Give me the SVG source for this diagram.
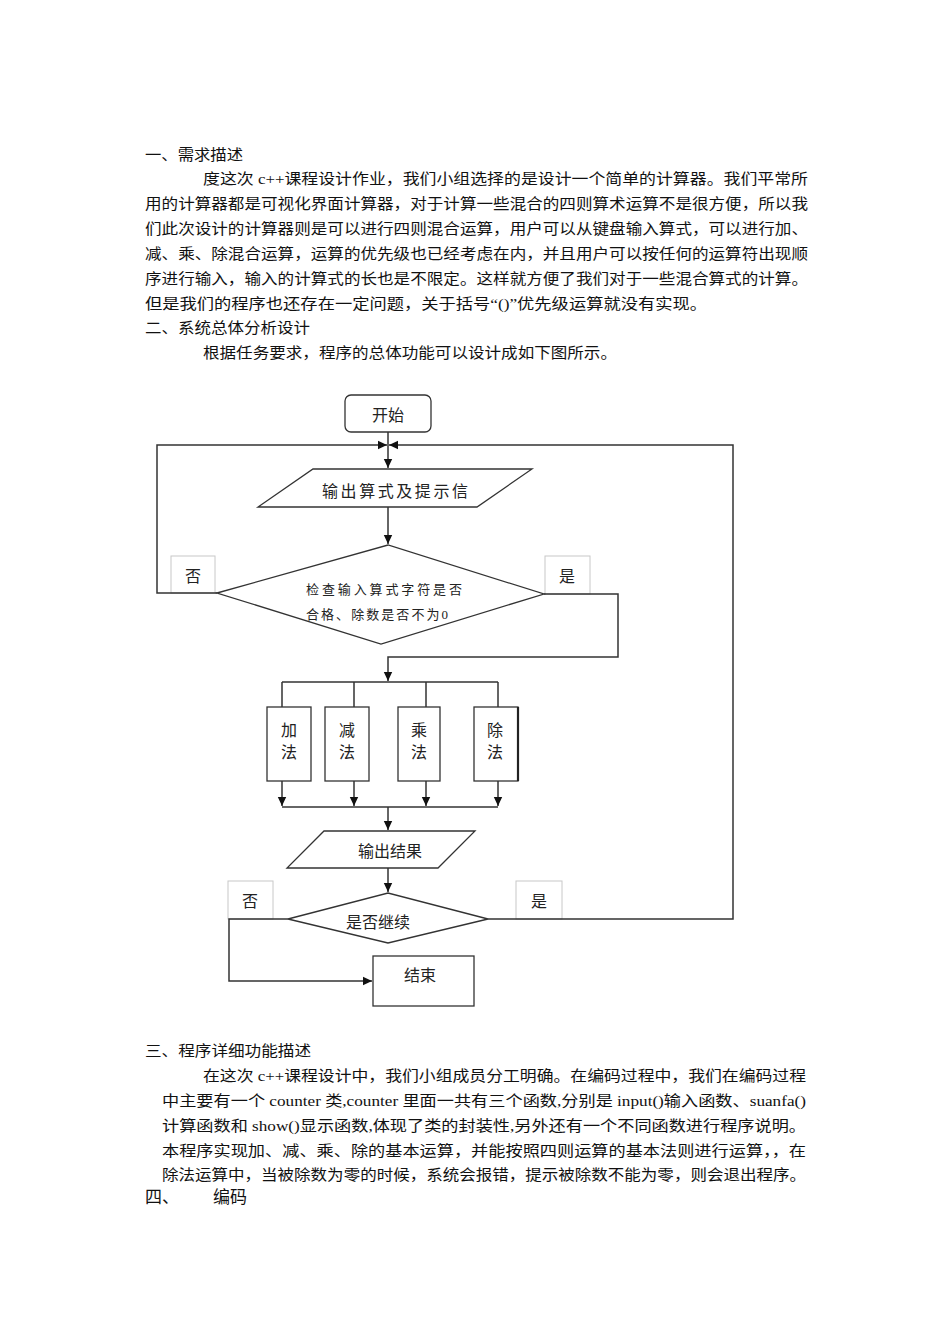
<svg xmlns="http://www.w3.org/2000/svg" width="950" height="1344" viewBox="0 0 950 1344">
<style>
.body{font-family:"Liberation Serif","Noto Sans CJK SC",serif;font-size:15px;fill:#111}
.lbl{font-family:"Liberation Serif","Noto Sans CJK SC",serif;font-size:16px;fill:#222}
.small{font-family:"Liberation Serif","Noto Sans CJK SC",serif;font-size:13px;fill:#222}
.shape{fill:#fff;stroke:#333;stroke-width:1.3}
.tag{fill:#fff;stroke:#c8c8c8;stroke-width:1}
.conn{fill:none;stroke:#333;stroke-width:1.5}
</style>
<defs>
<marker id="arr" markerUnits="userSpaceOnUse" markerWidth="10" markerHeight="10" refX="9" refY="5" orient="auto">
<path d="M0,0.8 L9,5 L0,9.2 Z" fill="#111"/>
</marker>
</defs>
<rect width="950" height="1344" fill="#fff"/>

<g id="text-top">
<text class="body" x="145" y="160" textLength="98" lengthAdjust="spacingAndGlyphs">一、需求描述</text>
<text class="body" x="203" y="184" textLength="605" lengthAdjust="spacingAndGlyphs">度这次 c++课程设计作业，我们小组选择的是设计一个简单的计算器。我们平常所</text>
<text class="body" x="145" y="209" textLength="663" lengthAdjust="spacingAndGlyphs">用的计算器都是可视化界面计算器，对于计算一些混合的四则算术运算不是很方便，所以我</text>
<text class="body" x="145" y="234" textLength="663" lengthAdjust="spacingAndGlyphs">们此次设计的计算器则是可以进行四则混合运算，用户可以从键盘输入算式，可以进行加、</text>
<text class="body" x="145" y="259" textLength="663" lengthAdjust="spacingAndGlyphs">减、乘、除混合运算，运算的优先级也已经考虑在内，并且用户可以按任何的运算符出现顺</text>
<text class="body" x="145" y="284" textLength="663" lengthAdjust="spacingAndGlyphs">序进行输入，输入的计算式的长也是不限定。这样就方便了我们对于一些混合算式的计算。</text>
<text class="body" x="145" y="309" textLength="562" lengthAdjust="spacingAndGlyphs">但是我们的程序也还存在一定问题，关于括号“()”优先级运算就没有实现。</text>
<text class="body" x="145" y="333" textLength="165" lengthAdjust="spacingAndGlyphs">二、系统总体分析设计</text>
<text class="body" x="203" y="358" textLength="414" lengthAdjust="spacingAndGlyphs">根据任务要求，程序的总体功能可以设计成如下图所示。</text>
</g>

<g id="tags">
<rect class="tag" x="171" y="556" width="44" height="37"/>
<text class="lbl" x="193" y="582" text-anchor="middle">否</text>
<rect class="tag" x="545" y="556" width="45" height="38"/>
<text class="lbl" x="567" y="582" text-anchor="middle">是</text>
<rect class="tag" x="228" y="881" width="45" height="38"/>
<text class="lbl" x="250" y="907" text-anchor="middle">否</text>
<rect class="tag" x="516" y="881" width="46" height="38"/>
<text class="lbl" x="539" y="907" text-anchor="middle">是</text>
</g>

<g id="connectors">
<path class="conn" d="M388,432 V468" marker-end="url(#arr)"/>
<path class="conn" d="M388,507 V544" marker-end="url(#arr)"/>
<path class="conn" d="M217,593 H157 V445 H387" marker-end="url(#arr)"/>
<path class="conn" d="M544,594 H618 V657 H388 V681" marker-end="url(#arr)"/>
<path class="conn" d="M282,682 H498 M282,682 V707 M354,682 V707 M426,682 V707 M498,682 V707"/>
<path class="conn" d="M282,781 V806" marker-end="url(#arr)"/>
<path class="conn" d="M354,781 V806" marker-end="url(#arr)"/>
<path class="conn" d="M426,781 V806" marker-end="url(#arr)"/>
<path class="conn" d="M498,781 V806" marker-end="url(#arr)"/>
<path class="conn" d="M282,807 H498"/>
<path class="conn" d="M388,807 V830" marker-end="url(#arr)"/>
<path class="conn" d="M388,868 V892" marker-end="url(#arr)"/>
<path class="conn" d="M288,919 H229 V981 H372" marker-end="url(#arr)"/>
<path class="conn" d="M488,919 H733 V445 H389" marker-end="url(#arr)"/>
</g>

<g id="start">
<rect class="shape" x="345" y="395" width="86" height="37" rx="6"/>
<text class="lbl" x="388" y="421" text-anchor="middle">开始</text>
</g>

<g id="output-expr">
<polygon class="shape" points="313,469 532,469 477,507 258,507"/>
<text class="lbl" x="322" y="497" textLength="146" lengthAdjust="spacing">输出算式及提示信</text>
</g>

<g id="check">
<polygon class="shape" points="217,593 388,545 544,594 381,644"/>
<text class="small" x="306" y="594" textLength="156" lengthAdjust="spacing">检查输入算式字符是否</text>
<text class="small" x="306" y="619" textLength="142" lengthAdjust="spacing">合格、除数是否不为0</text>
</g>

<g id="add">
<rect class="shape" x="267" y="707" width="44" height="74"/>
<text class="lbl" x="289" y="736" text-anchor="middle">加</text>
<text class="lbl" x="289" y="758" text-anchor="middle">法</text>
</g>
<g id="sub">
<rect class="shape" x="325" y="707" width="44" height="74"/>
<text class="lbl" x="347" y="736" text-anchor="middle">减</text>
<text class="lbl" x="347" y="758" text-anchor="middle">法</text>
</g>
<g id="mul">
<rect class="shape" x="398" y="707" width="42" height="74"/>
<text class="lbl" x="419" y="736" text-anchor="middle">乘</text>
<text class="lbl" x="419" y="758" text-anchor="middle">法</text>
</g>
<g id="div">
<rect class="shape" x="474" y="707" width="44" height="74"/>
<line x1="518" y1="707" x2="518" y2="781" stroke="#222" stroke-width="2.2"/>
<text class="lbl" x="495" y="736" text-anchor="middle">除</text>
<text class="lbl" x="495" y="758" text-anchor="middle">法</text>
</g>

<g id="output-result">
<polygon class="shape" points="324,831 475,831 438,868 287,868"/>
<text class="lbl" x="390" y="857" text-anchor="middle">输出结果</text>
</g>

<g id="continue">
<polygon class="shape" points="288,919 388,893 488,919 388,943"/>
<text class="lbl" x="378" y="928" text-anchor="middle">是否继续</text>
</g>

<g id="end">
<rect class="shape" x="373" y="956" width="101" height="50"/>
<text class="lbl" x="420" y="981" text-anchor="middle">结束</text>
</g>

<g id="text-bottom">
<text class="body" x="145" y="1056" textLength="166" lengthAdjust="spacingAndGlyphs">三、程序详细功能描述</text>
<text class="body" x="203" y="1081" textLength="603" lengthAdjust="spacingAndGlyphs">在这次 c++课程设计中，我们小组成员分工明确。在编码过程中，我们在编码过程</text>
<text class="body" x="162" y="1106" textLength="644" lengthAdjust="spacingAndGlyphs">中主要有一个 counter 类,counter 里面一共有三个函数,分别是 input()输入函数、suanfa()</text>
<text class="body" x="162" y="1131" textLength="644" lengthAdjust="spacingAndGlyphs">计算函数和 show()显示函数,体现了类的封装性,另外还有一个不同函数进行程序说明。</text>
<text class="body" x="162" y="1156" textLength="644" lengthAdjust="spacingAndGlyphs">本程序实现加、减、乘、除的基本运算，并能按照四则运算的基本法则进行运算，，在</text>
<text class="body" x="162" y="1180" textLength="644" lengthAdjust="spacingAndGlyphs">除法运算中，当被除数为零的时候，系统会报错，提示被除数不能为零，则会退出程序。</text>
<text class="body" x="145" y="1203" style="font-size:17px">四、</text>
<text class="body" x="213" y="1203" style="font-size:17px">编码</text>
</g>
</svg>
